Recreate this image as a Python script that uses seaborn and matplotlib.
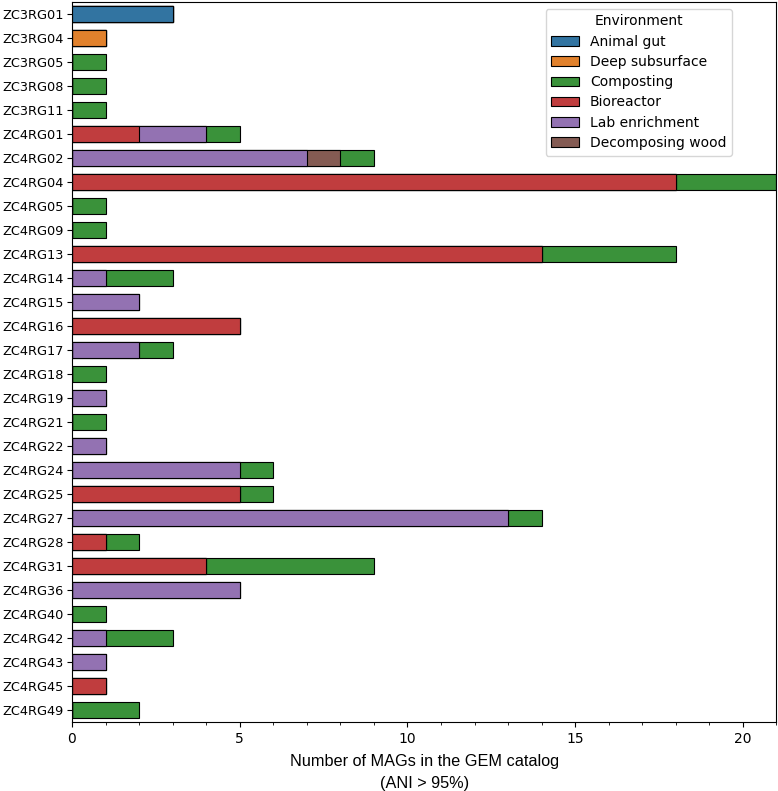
import matplotlib
matplotlib.use('Agg')
import matplotlib.pyplot as plt
import seaborn as sns
import pandas as pd
import numpy as np
from matplotlib.patches import Patch
from matplotlib.ticker import MultipleLocator

clusters = ['ZC3RG01', 'ZC3RG04', 'ZC3RG05', 'ZC3RG08', 'ZC3RG11', 'ZC4RG01', 'ZC4RG02',
            'ZC4RG04', 'ZC4RG05', 'ZC4RG09', 'ZC4RG13', 'ZC4RG14', 'ZC4RG15', 'ZC4RG16',
            'ZC4RG17', 'ZC4RG18', 'ZC4RG19', 'ZC4RG21', 'ZC4RG22', 'ZC4RG24', 'ZC4RG25',
            'ZC4RG27', 'ZC4RG28', 'ZC4RG31', 'ZC4RG36', 'ZC4RG40', 'ZC4RG42', 'ZC4RG43',
            'ZC4RG45', 'ZC4RG49']

animal_gut = [3, 0, 0, 0, 0, 0, 0, 0, 0, 0, 0, 0, 0, 0, 0, 0, 0, 0, 0, 0, 0, 0, 0, 0, 0, 0, 0, 0, 0, 0]
deep_subsurface = [0, 1, 0, 0, 0, 0, 0, 0, 0, 0, 0, 0, 0, 0, 0, 0, 0, 0, 0, 0, 0, 0, 0, 0, 0, 0, 0, 0, 0, 0]
bioreactor = [0, 0, 0, 0, 0, 2, 0, 18, 0, 0, 14, 0, 0, 5, 0, 0, 0, 0, 0, 0, 5, 0, 1, 4, 0, 0, 0, 0, 1, 0]
lab_enrichment = [0, 0, 0, 0, 0, 2, 7, 0, 0, 0, 0, 1, 2, 0, 2, 0, 1, 0, 1, 5, 0, 13, 0, 0, 5, 0, 1, 1, 0, 0]
decomposing_wood = [0, 0, 0, 0, 0, 0, 1, 0, 0, 0, 0, 0, 0, 0, 0, 0, 0, 0, 0, 0, 0, 0, 0, 0, 0, 0, 0, 0, 0, 0]
composting = [0, 0, 1, 1, 1, 1, 1, 3, 1, 1, 4, 2, 0, 0, 1, 1, 0, 1, 0, 1, 1, 1, 1, 5, 0, 1, 2, 0, 0, 2]

legend_order = ['Animal gut', 'Deep subsurface', 'Composting', 'Bioreactor', 'Lab enrichment', 'Decomposing wood']
colors = dict(zip(legend_order, sns.color_palette('tab10', 6)))

# order of the segments from left to right
stack = [('Animal gut', animal_gut), ('Deep subsurface', deep_subsurface),
         ('Bioreactor', bioreactor), ('Lab enrichment', lab_enrichment),
         ('Decomposing wood', decomposing_wood), ('Composting', composting)]

df = pd.DataFrame({'cluster': clusters})
cum = np.zeros(len(clusters))
cols = []
for name, vals in stack:
    cum = cum + np.array(vals)
    df[name] = cum.copy()
    cols.append(name)

fig, ax = plt.subplots(figsize=(7.78, 7.91), dpi=100)

# draw cumulative bars from the outermost segment inwards
for name in reversed(cols):
    sns.barplot(data=df, x=name, y='cluster', color=colors[name], orient='h',
                width=0.65, edgecolor='black', linewidth=0.8, ax=ax)

ax.set_xlim(0, 21)
ax.xaxis.set_major_locator(MultipleLocator(5))
ax.xaxis.set_minor_locator(MultipleLocator(1))
ax.tick_params(axis='y', labelsize=9.3, pad=2.2)
ax.tick_params(axis='x', labelsize=10)
ax.set_ylabel('')
ax.set_xlabel('Number of MAGs in the GEM catalog\n(ANI > 95%)', fontsize=11.7, linespacing=1.6,
              family=['Liberation Sans', 'DejaVu Sans'], labelpad=6)

handles = [Patch(facecolor=sns.desaturate(colors[n], 0.75), edgecolor='black', linewidth=0.8, label=n)
           for n in legend_order]
ax.legend(handles=handles, title='Environment', loc='upper right', bbox_to_anchor=(0.947, 1),
          fontsize=10, title_fontsize=10, labelspacing=0.45)

plt.subplots_adjust(left=0.0925, right=0.998, top=0.9975, bottom=0.0872)
plt.savefig('out.png', dpi=100)
